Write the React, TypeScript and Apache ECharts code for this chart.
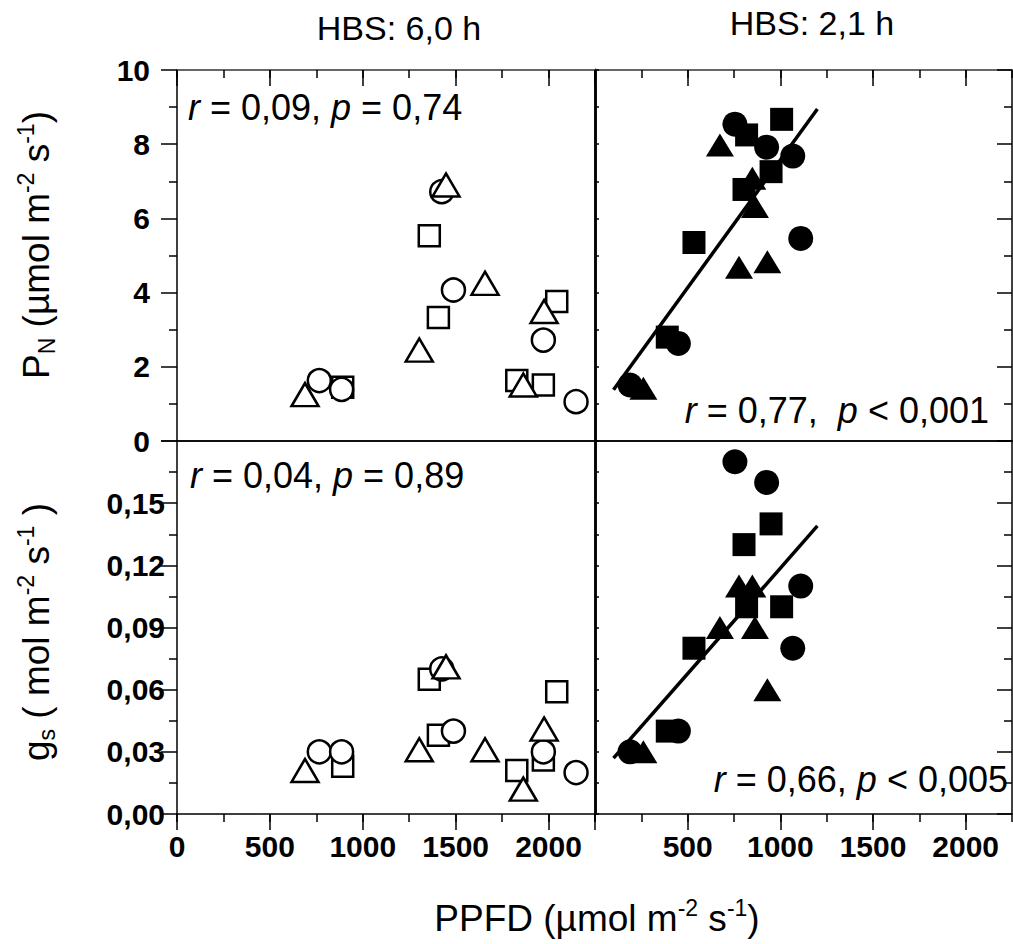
import React, { useEffect, useRef } from 'react';
import * as echarts from 'echarts';

const FONT = '"Liberation Sans", Arial, Helvetica, sans-serif';

// ---- Data (PPFD in µmol m-2 s-1, PN in µmol m-2 s-1, gs in mol m-2 s-1) ----
// Left column: HBS 6,0 h (open symbols)
const leftSquarePPFD = [892, 1358, 1407, 2044, 1829, 1972];
const leftSquarePN = [1.45, 5.53, 3.33, 3.76, 1.63, 1.51];
const leftSquareGs = [0.023, 0.065, 0.038, 0.059, 0.021, 0.026];
const leftCirclePPFD = [766, 886, 1425, 1488, 1972, 2148];
const leftCirclePN = [1.63, 1.39, 6.72, 4.07, 2.72, 1.06];
const leftCircleGs = [0.03, 0.03, 0.07, 0.04, 0.03, 0.02];
const leftTrianglePPFD = [689, 1304, 1448, 1658, 1976, 1864];
const leftTrianglePN = [1.25, 2.45, 6.9, 4.25, 3.49, 1.51];
const leftTriangleGs = [0.021, 0.031, 0.071, 0.031, 0.041, 0.012];

// Right column: HBS 2,1 h (filled symbols)
const rightSquarePPFD = [1007, 818, 950, 804, 534, 390];
const rightSquarePN = [8.67, 8.25, 7.26, 6.78, 5.35, 2.8];
const rightSquareGs = [0.1, 0.1, 0.14, 0.13, 0.08, 0.04];
const rightCirclePPFD = [755, 926, 1067, 1110, 450, 189];
const rightCirclePN = [8.54, 7.92, 7.68, 5.46, 2.63, 1.51];
const rightCircleGs = [0.17, 0.16, 0.08, 0.11, 0.04, 0.03];
const rightTrianglePPFD = [674, 849, 863, 777, 930, 261];
const rightTrianglePN = [7.98, 7.08, 6.32, 4.68, 4.83, 1.42];
const rightTriangleGs = [0.09, 0.11, 0.09, 0.11, 0.06, 0.03];

// Regression lines (right column)
const fitPPFD = [100, 1200];
const fitPN = [1.38, 8.95];
const fitGs = [0.027, 0.139];

// Axis ranges / ticks
const ppfdMax = 2250;
const ppfdMajorMax = 2000;
const ppfdMajor = 500;
const ppfdMinor = 250;
const pnMax = 10;
const pnInterval = 2;
const gsMax = 0.18;
const gsInterval = 0.03;

// Texts
const annTL = '{i|r}{n| = 0,09, }{i|p}{n| = 0,74}';
const annTR = '{i|r}{n| = 0,77,  }{i|p}{n| < 0,001}';
const annBL = '{i|r}{n| = 0,04, }{i|p}{n| = 0,89}';
const annBR = '{i|r}{n| = 0,66, }{i|p}{n| < 0,005}';
const titleLeft = 'HBS: 6,0 h';
const titleRight = 'HBS: 2,1 h';
const xTitle = '{a|PPFD (\u00b5mol m}{s|-2}{a| s}{s|-1}{a|)}';
const yTitleTop = '{a|P}{b|N}{a| (\u00b5mol m}{s|-2}{a| s}{s|-1}{a|)}';
const yTitleBottom = '{a|g}{b|s}{a| ( mol m}{s|-2}{a| s}{s|-1}{a| )}';

// Layout (px)
const L = 177, MID = 595, R = 1012, T = 70, M = 441, B = 814;
const TICK_FONT = 30;

const pairs = (xs: number[], ys: number[]) => xs.map((x, i) => [x, ys[i]]);

const BLACK = '#000';

function xMain(gridIndex: number, position: string, o: any) {
  return {
    type: 'value', gridIndex, position, min: 0, max: ppfdMax, interval: ppfdMinor,
    axisLine: { show: o.line !== false, onZero: false, lineStyle: { color: o.color || BLACK, width: o.width || 1.5 } },
    axisTick: { show: !!o.ticks, inside: !!o.inside, length: 8, lineStyle: { color: BLACK, width: 1.5 } },
    axisLabel: { show: false },
    splitLine: { show: false },
  };
}

function xMajorAxis(gridIndex: number, position: string, inside: boolean, labels: boolean, hideZero: boolean) {
  return {
    type: 'value', gridIndex, position, min: 0, max: ppfdMajorMax, interval: ppfdMajor,
    axisLine: { show: false, onZero: false },
    axisTick: { show: true, inside, length: 16, lineStyle: { color: BLACK, width: 1.5 } },
    axisLabel: {
      show: labels, interval: 0, margin: 17, fontSize: TICK_FONT, fontWeight: 'bold', fontFamily: FONT, color: BLACK,
      showMinLabel: true, showMaxLabel: true,
      formatter: (v: number) => (hideZero && v === 0 ? '' : String(v)),
    },
    splitLine: { show: false },
  };
}

function yMain(gridIndex: number, position: string, kind: 'pn' | 'gs', o: any) {
  const isPn = kind === 'pn';
  let tickLen = 16, minorLen = 8, inside = false, showTick = true;
  if (o.ticks === 'in') { tickLen = 15; minorLen = 8; inside = true; }
  else if (o.ticks === 'small') { tickLen = 4; minorLen = 4; inside = true; }
  else if (o.ticks === 'none') { showTick = false; }
  return {
    type: 'value', gridIndex, position,
    min: 0, max: isPn ? pnMax : gsMax, interval: isPn ? pnInterval : gsInterval,
    axisLine: { show: true, onZero: false, lineStyle: { color: BLACK, width: o.width || 1.5 } },
    axisTick: { show: showTick, inside, length: tickLen, lineStyle: { color: BLACK, width: 1.5 } },
    minorTick: { show: showTick, splitNumber: 2, length: minorLen, lineStyle: { color: BLACK, width: 1.5 } },
    axisLabel: {
      show: !!o.labels, margin: o.margin || 8, fontSize: TICK_FONT, fontWeight: 'bold', fontFamily: FONT, color: BLACK,
      showMinLabel: true, showMaxLabel: true,
      formatter: isPn
        ? (v: number) => String(Math.round(v))
        : (v: number) => (v > gsMax - 0.001 ? '' : v.toFixed(2).replace('.', ',')),
    },
    splitLine: { show: false },
  };
}

function scatter(xs: number[], ys: number[], symbol: string, size: any, filled: boolean, xi: number, yi: number, z: number) {
  return {
    type: 'scatter', xAxisIndex: xi, yAxisIndex: yi, symbol, symbolSize: size, z,
    data: pairs(xs, ys),
    itemStyle: filled
      ? { color: BLACK, borderWidth: 0, opacity: 1 }
      : { color: '#fff', borderColor: BLACK, borderWidth: 2.5, opacity: 1 },
    emphasis: { disabled: true },
    silent: true,
  };
}

function fitLine(xs: number[], ys: number[], xi: number, yi: number) {
  return {
    type: 'line', xAxisIndex: xi, yAxisIndex: yi, data: pairs(xs, ys), symbol: 'none', z: 5,
    lineStyle: { color: BLACK, width: 3.5 }, silent: true,
  };
}

const richAnn = {
  i: { fontSize: 36, fontStyle: 'italic', fontFamily: FONT, fill: BLACK },
  n: { fontSize: 36, fontFamily: FONT, fill: BLACK },
};
const richTitle = {
  a: { fontSize: 37, fontFamily: FONT, fill: BLACK, lineHeight: 44 },
  s: { fontSize: 23, fontFamily: FONT, fill: BLACK, lineHeight: 24, verticalAlign: 'top' },
  b: { fontSize: 23, fontFamily: FONT, fill: BLACK, lineHeight: 18, verticalAlign: 'bottom' },
};

function richText(x: number, y: number, text: string, rich: any, align: string, rotation = 0) {
  return {
    type: 'text', x, y, rotation, silent: true,
    style: { text, rich, align, verticalAlign: 'middle', fill: BLACK, fontFamily: FONT },
  };
}

export default function App() {
  const ref = useRef<HTMLDivElement>(null);
  useEffect(() => {
    if (!ref.current) return;
    const chart = echarts.init(ref.current, null, { renderer: 'svg' });
    const wL = MID - L, wR = R - MID, hT = M - T, hB = B - M;
    const fr = ppfdMajorMax / ppfdMax;
    const g = (left: number, top: number, width: number, height: number) => ({
      left, top, width, height, containLabel: false, outerBoundsMode: 'none', show: false,
    });
    const option: any = {
      animation: false,
      backgroundColor: '#fff',
      textStyle: { fontFamily: FONT },
      grid: [
        g(L, T, wL, hT), g(MID, T, wR, hT), g(L, M, wL, hB), g(MID, M, wR, hB),
        g(L, T, wL * fr, hT), g(MID, T, wR * fr, hT), g(L, M, wL * fr, hB), g(MID, M, wR * fr, hB),
      ],
      xAxis: [
        xMain(0, 'bottom', {}),
        xMain(0, 'top', { ticks: true, inside: true, color: '#666', width: 2 }),
        xMain(1, 'bottom', {}),
        xMain(1, 'top', { ticks: true, inside: true, color: '#666', width: 2 }),
        xMain(2, 'bottom', { ticks: true, inside: false }),
        xMain(2, 'top', {}),
        xMain(3, 'bottom', { ticks: true, inside: false }),
        xMain(3, 'top', {}),
        xMajorAxis(4, 'top', true, false, false),
        xMajorAxis(5, 'top', true, false, false),
        xMajorAxis(6, 'bottom', false, true, false),
        xMajorAxis(7, 'bottom', false, true, true),
      ],
      yAxis: [
        yMain(0, 'left', 'pn', { labels: true, ticks: 'out', margin: 27 }),
        yMain(0, 'right', 'pn', { ticks: 'none', width: 2.5 }),
        yMain(1, 'left', 'pn', { ticks: 'small', width: 2.5 }),
        yMain(1, 'right', 'pn', { ticks: 'in' }),
        yMain(2, 'left', 'gs', { labels: true, ticks: 'out', margin: 12 }),
        yMain(2, 'right', 'gs', { ticks: 'none', width: 2.5 }),
        yMain(3, 'left', 'gs', { ticks: 'small', width: 2.5 }),
        yMain(3, 'right', 'gs', { ticks: 'in' }),
        { type: 'value', gridIndex: 4, min: 0, max: 1, show: false },
        { type: 'value', gridIndex: 5, min: 0, max: 1, show: false },
        { type: 'value', gridIndex: 6, min: 0, max: 1, show: false },
        { type: 'value', gridIndex: 7, min: 0, max: 1, show: false },
      ],
      series: [
        // top-left: PN, HBS 6,0 h
        scatter(leftSquarePPFD, leftSquarePN, 'rect', 21, false, 0, 0, 2),
        scatter(leftCirclePPFD, leftCirclePN, 'circle', 23, false, 0, 0, 3),
        scatter(leftTrianglePPFD, leftTrianglePN, 'triangle', [27, 23], false, 0, 0, 4),
        // top-right: PN, HBS 2,1 h
        scatter(rightSquarePPFD, rightSquarePN, 'rect', 23, true, 2, 2, 2),
        scatter(rightCirclePPFD, rightCirclePN, 'circle', 25, true, 2, 2, 3),
        scatter(rightTrianglePPFD, rightTrianglePN, 'triangle', [28, 23], true, 2, 2, 4),
        fitLine(fitPPFD, fitPN, 2, 2),
        // bottom-left: gs, HBS 6,0 h
        scatter(leftSquarePPFD, leftSquareGs, 'rect', 21, false, 4, 4, 2),
        scatter(leftCirclePPFD, leftCircleGs, 'circle', 23, false, 4, 4, 3),
        scatter(leftTrianglePPFD, leftTriangleGs, 'triangle', [27, 23], false, 4, 4, 4),
        // bottom-right: gs, HBS 2,1 h
        scatter(rightSquarePPFD, rightSquareGs, 'rect', 23, true, 6, 6, 2),
        scatter(rightCirclePPFD, rightCircleGs, 'circle', 25, true, 6, 6, 3),
        scatter(rightTrianglePPFD, rightTriangleGs, 'triangle', [28, 23], true, 6, 6, 4),
        fitLine(fitPPFD, fitGs, 6, 6),
      ],
      graphic: [
        richText(188, 107, annTL, richAnn, 'left'),
        richText(989, 410, annTR, richAnn, 'right'),
        richText(190, 475, annBL, richAnn, 'left'),
        richText(1008, 779, annBR, richAnn, 'right'),
        { type: 'text', x: 399, y: 28, silent: true, style: { text: titleLeft, fontSize: 34, fontFamily: FONT, fill: BLACK, align: 'center', verticalAlign: 'middle' } },
        { type: 'text', x: 812, y: 23, silent: true, style: { text: titleRight, fontSize: 34, fontFamily: FONT, fill: BLACK, align: 'center', verticalAlign: 'middle' } },
        richText(597, 918, xTitle, richTitle, 'center'),
        richText(36, 245, yTitleTop, richTitle, 'center', Math.PI / 2),
        richText(36, 632, yTitleBottom, richTitle, 'center', Math.PI / 2),
      ],
    };
    chart.setOption(option);
    return () => chart.dispose();
  }, []);
  return (
    <div
      ref={ref}
      style={{ position: 'absolute', left: 0, top: 0, width: 1013, height: 944, background: '#fff' }}
    />
  );
}
